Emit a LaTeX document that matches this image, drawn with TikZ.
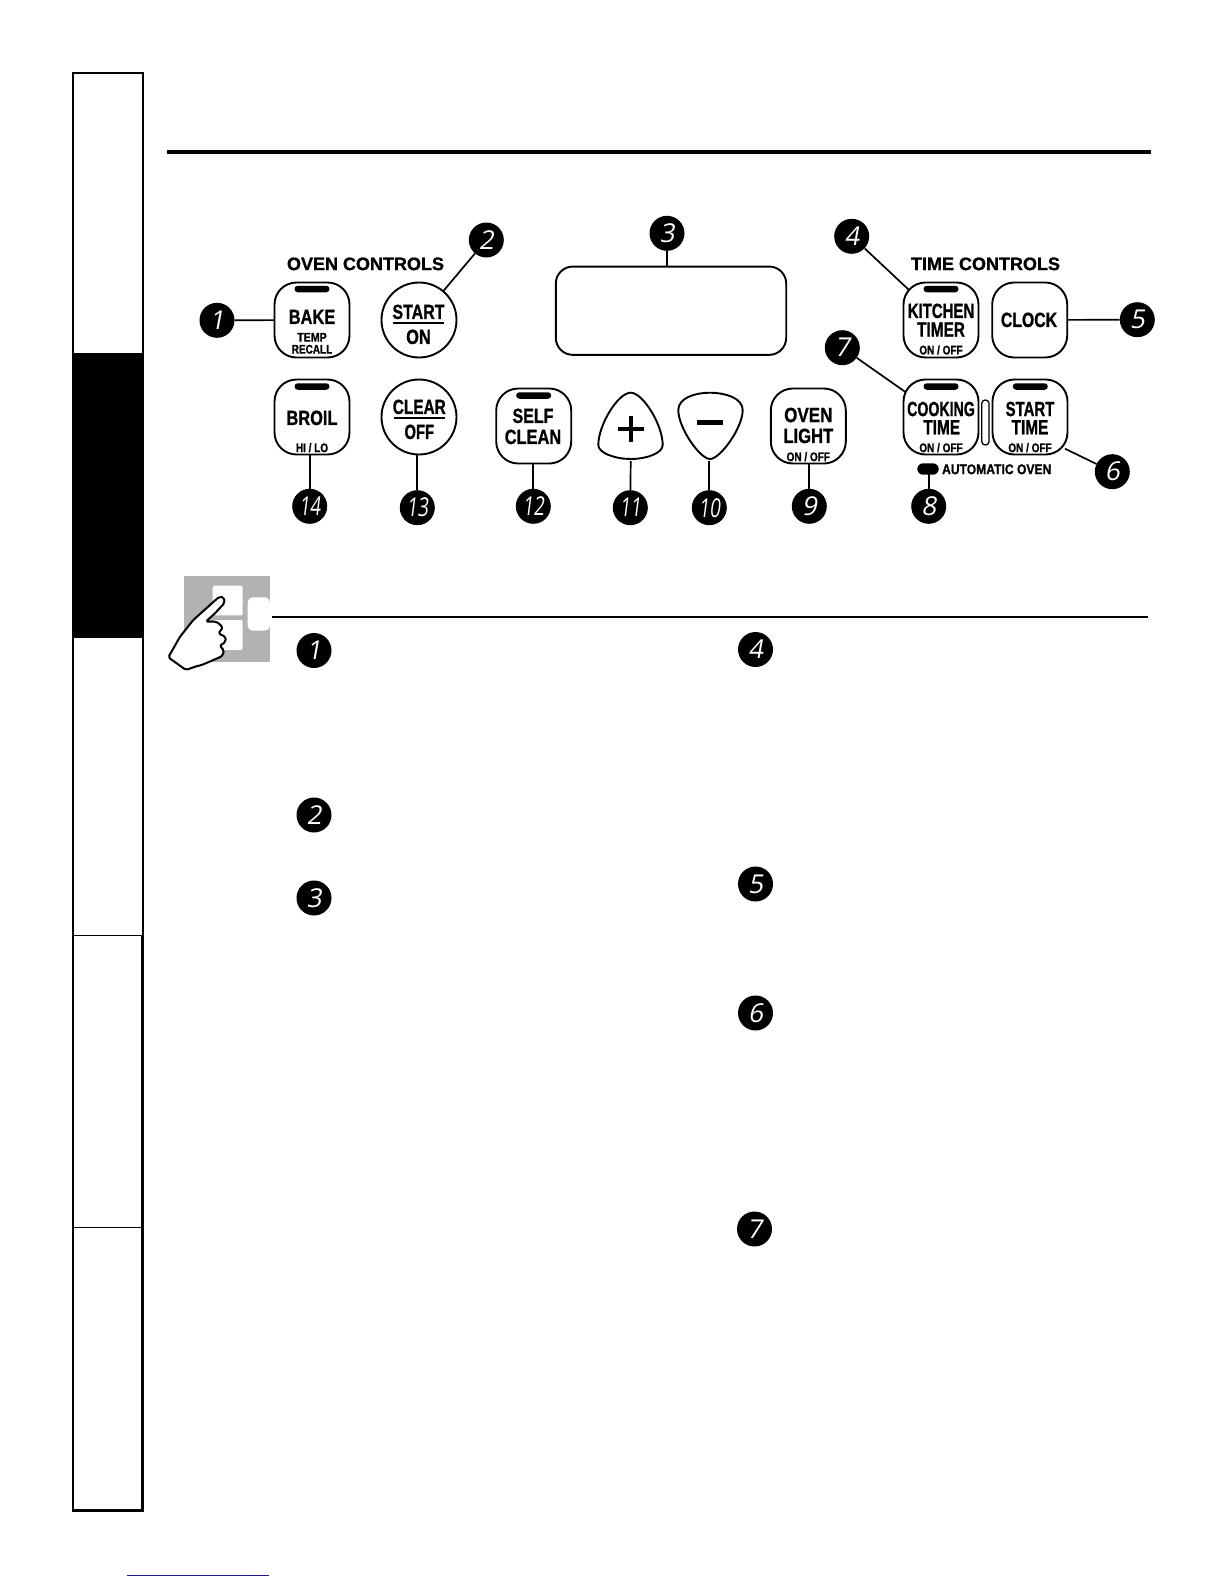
\documentclass[tikz,border=0pt]{standalone}
\usepackage{fontspec}
\usepackage{graphicx}
\setmainfont{Liberation Sans}
\setsansfont{Liberation Sans}
\newfontfamily\heavyfont[BoldFeatures={FakeBold=1.2}]{Liberation Sans}
\newfontfamily\digitfont[FakeSlant=0.18]{Open Sans}
\usetikzlibrary{backgrounds,calc}
\definecolor{linkblue}{RGB}{25,25,150}
\newcommand{\cnd}[3][.8]{{\fontsize{#2}{#2}\selectfont\scalebox{#1}[1]{#3}}}
\tikzset{
  btn/.style={draw,fill=white,line width=1.9pt,rounded corners=22pt,minimum size=75pt,inner sep=0pt},
  roundbtn/.style={draw,fill=white,circle,line width=1.9pt,minimum size=75pt,inner sep=0pt},
  ind/.style={fill=black,rounded corners=3.2pt,minimum width=35pt,minimum height=6.5pt,inner sep=0pt},
  lab/.style={inner sep=0pt,font=\heavyfont\bfseries,text=black},
  num/.style={circle,fill=black,minimum size=35pt,inner sep=0pt,text=white,font=\digitfont},
  conn/.style={line width=1.7pt},
  urule/.style={fill=black,inner sep=0pt,minimum height=2.2pt},
  pad/.style={fill=white,rounded corners=2pt,inner sep=0pt}
}
\newcommand{\dg}[2][1]{\fontsize{26}{26}\selectfont\scalebox{#1}[1]{#2}}
\begin{document}
\begin{tikzpicture}[x=1pt,y=-1pt]
\useasboundingbox (0,0) rectangle (1224,1584);
% side tabs
\fill[black] (73.5,352.5) rectangle (143,637.7);
\draw[line width=1.7pt] (72.9,72.7) rectangle (143,1511);
\draw[line width=1.2pt] (72.9,935.3) -- (143,935.3);
\draw[line width=1.2pt] (72.9,1227.3) -- (143,1227.3);
\draw[line width=3pt] (72,1510.5) -- (144,1510.5);
\draw[line width=2.6pt] (142.6,935.3) -- (142.6,1511);
% page rules
\fill (167,150) rectangle (1151,154);
\fill (272,616) rectangle (1148,617.7);
\draw[draw=linkblue,line width=1.3pt] (126.7,1575.3) -- (269,1575.3);
% hand icon
\fill[black!30] (184.3,576) rectangle (270,661.7);
\node[pad,minimum width=30pt,minimum height=29.6pt] (padA) at (227.7,600.5) {};
\node[pad,minimum width=30pt,minimum height=30pt] (padB) at (227.7,635) {};
\fill[white,rounded corners=5pt] (270,597.3) -- (247.7,597.3) -- (247.7,630.7) -- (270,630.7) -- cycle;
\draw[fill=white,line width=2pt,line join=round,rounded corners=1.8pt]
  (168.3,657.3) -- (180,636.7) -- (193.3,620) -- (210,605) -- (219.3,596.7) -- (224,597.5) -- (224.5,603) -- (215,613.3) -- (205.7,621.7)
  -- (216.7,621.7) -- (223,627.3) -- (218.3,633.5) -- (225.5,636.7) -- (225.5,642) -- (219.5,646) -- (224,650) -- (222.5,656)
  -- (215,659.3) -- (201.7,665) -- (195,666.7) -- (186,670) -- cycle;
% display
\node[draw,fill=white,line width=1.9pt,rounded corners=17pt,minimum width=230.4pt,minimum height=88.3pt,inner sep=0pt] (display) at (671,310.7) {};
% buttons
\node[btn] (bake) at (312,320) {};
\node[roundbtn] (start) at (419,320) {};
\node[btn] (broil) at (312,417) {};
\node[roundbtn] (clear) at (419,417) {};
\node[btn] (self) at (533.7,426) {};
\node[btn] (light) at (808.3,426) {};
\node[btn] (kitchen) at (941,320) {};
\node[btn] (clock) at (1029.7,320) {};
\node[btn] (cooking) at (941,417) {};
\node[btn] (starttime) at (1030,417) {};
\node[draw,fill=white,line width=1.3pt,rounded corners=3.5pt,minimum width=7.3pt,minimum height=45pt,inner sep=0pt] (link) at (985.4,422.5) {};
% plus, minus
\draw[fill=white,line width=1.9pt] (630.7,392.7) .. controls (618,392.7) and (598.3,425) .. (598.3,445) .. controls (598.3,453) and (615,459) .. (630.7,459) .. controls (647,459) and (662.7,453) .. (662.7,445) .. controls (662.7,425) and (643,392.7) .. cycle;
\coordinate (plusb) at (630.7,461);
\fill (617.7,427.3) rectangle (643.7,431.3);
\fill (628.7,416.3) rectangle (632.7,442.3);
\draw[fill=white,line width=1.9pt] (710,392.7) .. controls (695,392.7) and (678.3,398) .. (678.3,410) .. controls (678.3,428) and (700,459) .. (710,459) .. controls (720,459) and (742.7,428) .. (742.7,410) .. controls (742.7,398) and (725,392.7) .. cycle;
\coordinate (minusb) at (709.3,461);
\fill (697,420.4) rectangle (723,425);
% indicators
\node[ind] (i1) at (312,289) {};
\node[ind] (i2) at (312,386.5) {};
\node[ind] (i3) at (533.7,395.5) {};
\node[ind] (i4) at (941,289) {};
\node[ind] (i5) at (941,386.5) {};
\node[ind] (i6) at (1030.3,386.5) {};
\node[ind,minimum width=21.4pt,minimum height=11.4pt,rounded corners=5.7pt] (autopill) at (928,469) {};
% labels
\node[lab] (t1) at (365.5,263.9) {\fontsize{18}{18}\selectfont OVEN CONTROLS};
\node[lab] (t2) at (985.5,263.9) {\fontsize{18}{18}\selectfont TIME CONTROLS};
\node[lab] (t3) at (312,316.9) {\cnd{20.5}{BAKE}};
\node[lab] (t4) at (312,337.3) {\cnd[.85]{12.5}{TEMP}};
\node[lab] (t5) at (312,349.3) {\cnd[.8]{12.5}{RECALL}};
\node[lab] (t6) at (418.5,311.9) {\cnd[.78]{20.5}{START}};
\node[urule,minimum width=50.7pt] (r1) at (418.5,323) {};
\node[lab] (t7) at (418.5,336.9) {\cnd{20.5}{ON}};
\node[lab] (t8) at (312,417.9) {\cnd{20.5}{BROIL}};
\node[lab] (t9) at (312,447.7) {\cnd{12.5}{HI / LO}};
\node[lab] (t10) at (419.3,406.9) {\cnd[.75]{20.5}{CLEAR}};
\node[urule,minimum width=51.3pt] (r2) at (419.3,418) {};
\node[lab] (t11) at (419.3,431.9) {\cnd[.72]{20.5}{OFF}};
\node[lab] (t12) at (533,415.9) {\cnd[.78]{20.5}{SELF}};
\node[lab] (t13) at (533,436.9) {\cnd{20.5}{CLEAN}};
\node[lab] (t14) at (808.3,415) {\cnd[.83]{20.5}{OVEN}};
\node[lab] (t15) at (808.3,435.9) {\cnd[.81]{20.5}{LIGHT}};
\node[lab] (t16) at (808.3,456.7) {\cnd{12.5}{ON / OFF}};
\node[lab] (t17) at (941,310.9) {\cnd[.73]{20.5}{KITCHEN}};
\node[lab] (t18) at (941,329.5) {\cnd[.75]{20.5}{TIMER}};
\node[lab] (t19) at (941,350) {\cnd{12.5}{ON / OFF}};
\node[lab] (t20) at (1029,319.9) {\cnd[.77]{20.5}{CLOCK}};
\node[lab] (t21) at (941,409) {\cnd[.69]{20.5}{COOKING}};
\node[lab] (t22) at (941.7,427.2) {\cnd[.75]{20.5}{TIME}};
\node[lab] (t23) at (941,447.7) {\cnd{12.5}{ON / OFF}};
\node[lab] (t24) at (1030,409) {\cnd[.73]{20.5}{START}};
\node[lab] (t25) at (1030,427.2) {\cnd[.75]{20.5}{TIME}};
\node[lab] (t26) at (1030,447.7) {\cnd{12.5}{ON / OFF}};
\node[lab] (t27) at (996.7,469.3) {\cnd[.865]{14}{AUTOMATIC OVEN}};
% callouts on panel
\node[num] (c1) at (217,320.3) {\dg{1}};
\node[num] (c2) at (486.3,240) {\dg{2}};
\node[num] (c3) at (667,233.3) {\dg{3}};
\node[num] (c4) at (851.7,236.3) {\dg{4}};
\node[num] (c5) at (1137.3,319.7) {\dg{5}};
\node[num] (c6) at (1112.3,471.7) {\dg{6}};
\node[num] (c7) at (842.3,347.7) {\dg{7}};
\node[num] (c8) at (928.7,506.3) {\dg{8}};
\node[num] (c9) at (809.3,506.3) {\dg{9}};
\node[num] (c10) at (709.3,507.7) {\dg[.72]{10}};
\node[num] (c11) at (630.3,507.7) {\dg[.72]{11}};
\node[num] (c12) at (533.3,506.3) {\dg[.72]{12}};
\node[num] (c13) at (417.3,507.7) {\dg[.72]{13}};
\node[num] (c14) at (309.7,506.3) {\dg[.72]{14}};
% callouts in the list
\node[num] (d1) at (314,650.5) {\dg{1}};
\node[num] (d2) at (314,815) {\dg{2}};
\node[num] (d3) at (314,898) {\dg{3}};
\node[num] (d4) at (755.5,649.5) {\dg{4}};
\node[num] (d5) at (755.5,884) {\dg{5}};
\node[num] (d6) at (755.5,1013) {\dg{6}};
\node[num] (d7) at (754.5,1229) {\dg{7}};
% connectors
\coordinate (a6) at (1065,448.7);
\begin{scope}[on background layer]
\draw[conn] (c1) -- (bake.center);
\draw[conn] (c2) -- (start.center);
\draw[conn] (c3) -- (c3 |- display.north);
\draw[conn] (c4) -- (kitchen.center);
\draw[conn] (c5) -- (clock.center);
\draw[conn] (c6) -- (a6);
\draw[conn] (c7) -- (cooking.center);
\draw[conn] (c8) -- (c8 |- autopill.center);
\draw[conn] (c9) -- (c9 |- light.south);
\draw[conn] (c10) -- (minusb);
\draw[conn] (c11) -- (plusb);
\draw[conn] (c12) -- (c12 |- self.south);
\draw[conn] (c13) -- (c13 |- clear.south);
\draw[conn] (c14) -- (c14 |- broil.south);
\end{scope}
\end{tikzpicture}
\end{document}
